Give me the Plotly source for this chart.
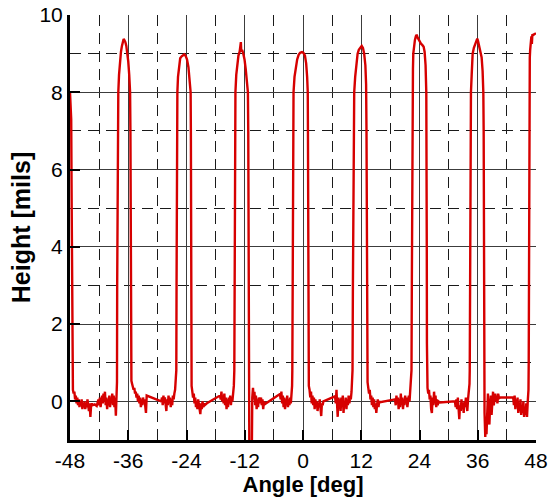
import plotly.graph_objects as go

# ---------------- data (angle in deg, height in mils) ----------------
start_deg = [-48.0, -47.9, -47.75, -47.65, -47.55, -47.45]
start_mils = [8.0, 7.8, 7.3, 5.0, 2.0, 0.6]

base_a_deg = [-47.40, -47.25, -47.10, -46.95, -46.80, -46.65, -46.50, -46.35, -46.20, -46.05,
              -45.90, -45.75, -45.60, -45.45, -45.30, -45.15, -45.00, -44.85, -44.70, -44.55,
              -44.40, -44.25, -44.10, -43.95, -43.80, -43.65, -43.50, -43.35, -42.90, -42.50,
              -42.30, -42.15, -42.00, -41.85, -41.70, -41.55, -41.40, -41.25, -41.10, -40.95,
              -40.80, -40.65, -40.50, -40.35, -40.20, -40.05, -39.90, -39.75, -39.60, -39.45,
              -39.30, -39.15, -39.00, -38.85, -38.70, -38.55, -38.45]
base_a_mils = [0.30, 0.20, 0.25, 0.05, 0.15, -0.05, 0.10, -0.10, 0.05, -0.15,
               0.00, -0.10, 0.05, -0.20, -0.05, -0.15, 0.00, -0.20, -0.05, -0.15,
               0.05, -0.10, -0.25, -0.05, -0.40, -0.10, -0.05, -0.10, -0.08, -0.12,
               -0.05, 0.05, -0.10, 0.10, -0.15, 0.00, 0.15, -0.05, 0.20, 0.00,
               0.25, -0.10, 0.10, -0.20, 0.05, -0.10, 0.15, -0.15, 0.10, -0.05,
               0.20, -0.10, 0.15, -0.15, 0.10, -0.37, 0.10]

pulse1_deg = [-38.32, -38.28, -38.22, -38.15, -38.05, -37.90, -37.70, -37.50, -37.30, -37.10,
              -36.95, -36.80, -36.60, -36.40, -36.20, -36.00, -35.80, -35.62, -35.55, -35.50,
              -35.47, -35.43]
pulse1_mils = [0.5, 3.0, 6.0, 7.5, 8.0, 8.45, 8.8, 9.05, 9.2, 9.32,
               9.38, 9.35, 9.3, 9.2, 9.05, 8.8, 8.45, 8.0, 7.0, 4.5,
               2.0, 0.6]

base_b_deg = [-35.35, -35.20, -35.05, -34.90, -34.75, -34.60, -34.45, -34.30, -34.15, -34.00,
              -33.85, -33.70, -33.55, -33.40, -33.25, -33.10, -32.95, -32.80, -32.65, -32.50,
              -32.35, -32.20, -29.20, -29.05, -28.90, -28.75, -28.60, -28.45, -28.30, -28.15,
              -28.00, -27.85, -27.70, -27.55, -27.40, -27.25, -27.10, -26.95, -26.80, -26.65,
              -26.50, -26.35, -26.20]
base_b_mils = [0.53, 0.45, 0.40, 0.30, 0.35, 0.20, 0.25, 0.10, 0.20, 0.00,
               0.15, -0.05, 0.10, -0.15, 0.05, -0.10, 0.10, -0.05, 0.05, -0.10,
               -0.30, 0.15, 0.00, 0.10, -0.10, 0.15, -0.05, 0.10, -0.15, -0.25,
               0.05, -0.10, 0.15, -0.05, 0.10, -0.15, 0.05, -0.10, 0.15, 0.05,
               0.20, 0.30, 0.60]

pulse2_deg = [-26.10, -26.05, -26.00, -25.95, -25.88, -25.75, -25.55, -25.30, -25.00, -24.70,
              -24.45, -24.20, -23.90, -23.60, -23.35, -23.15, -23.10, -23.07, -23.04, -23.00]
pulse2_mils = [0.8, 3.0, 6.0, 7.5, 8.0, 8.4, 8.7, 8.88, 8.93, 8.96,
               8.98, 8.95, 8.85, 8.65, 8.35, 8.0, 7.0, 4.0, 1.5, 0.4]

base_c_deg = [-22.95, -22.80, -22.65, -22.50, -22.35, -22.20, -22.05, -21.90, -21.75, -21.60,
              -21.45, -21.30, -21.15, -21.00, -20.85, -20.70, -20.55, -20.40, -20.25, -19.80,
              -17.10, -16.95, -16.80, -16.65, -16.50, -16.35, -16.20, -16.05, -15.90, -15.75,
              -15.60, -15.45, -15.30, -15.15, -15.00, -14.85, -14.70, -14.55, -14.40, -14.25]
base_c_mils = [0.40, 0.25, 0.10, 0.20, -0.05, 0.10, -0.15, 0.00, -0.20, 0.05,
               -0.10, -0.25, -0.33, -0.05, -0.20, 0.00, -0.15, -0.05, -0.10, -0.05,
               0.15, 0.05, 0.25, 0.00, 0.15, -0.05, 0.20, -0.10, 0.10, -0.20,
               0.05, -0.15, 0.10, -0.05, 0.15, -0.10, 0.10, 0.00, 0.20, 0.40]

pulse3_deg = [-14.15, -14.10, -14.05, -14.00, -13.92, -13.75, -13.55, -13.30, -13.05, -12.90,
              -12.80, -12.72, -12.55, -12.30, -12.05, -11.80, -11.55, -11.35, -11.28, -11.22,
              -11.17]
pulse3_mils = [0.8, 3.0, 6.0, 7.5, 8.0, 8.45, 8.75, 8.95, 9.05, 9.15,
               9.30, 9.05, 9.10, 9.0, 8.85, 8.6, 8.25, 8.0, 7.0, 4.0,
               1.0]

base_d_deg = [-11.05, -10.80, -10.55, -10.45, -10.30, -10.15, -10.00, -9.85, -9.70, -9.55,
              -9.40, -9.25, -9.10, -8.95, -8.80, -8.65, -8.50, -8.35, -8.20, -8.05,
              -7.85, -4.75, -4.60, -4.45, -4.30, -4.15, -4.00, -3.85, -3.70, -3.55,
              -3.40, -3.25, -3.10, -2.95, -2.80, -2.65, -2.50, -2.35, -2.25]
base_d_mils = [-1.5, -2.5, -1.5, 0.10, 0.35, 0.05, 0.25, -0.10, 0.15, -0.20,
               0.05, -0.15, 0.10, -0.05, 0.00, 0.10, -0.10, 0.05, -0.20, 0.00,
               -0.07, 0.19, 0.05, 0.25, -0.05, 0.15, -0.15, 0.10, -0.20, 0.05,
               -0.10, 0.15, -0.15, 0.05, -0.10, 0.10, -0.05, 0.20, 0.40]

pulse4_deg = [-2.20, -2.15, -2.10, -2.05, -1.95, -1.75, -1.50, -1.20, -0.90, -0.60,
              -0.20, 0.10, 0.40, 0.65, 0.85, 0.98, 1.02, 1.05, 1.08, 1.12]
pulse4_mils = [0.8, 3.0, 6.0, 7.5, 8.0, 8.4, 8.65, 8.85, 8.97, 9.02,
               9.04, 9.02, 8.95, 8.75, 8.4, 8.0, 7.0, 4.0, 1.5, 0.45]

base_e_deg = [1.20, 1.35, 1.50, 1.65, 1.80, 1.95, 2.10, 2.25, 2.40, 2.55,
              2.70, 2.85, 3.00, 3.15, 3.30, 3.45, 3.60, 3.75, 3.90, 4.05,
              4.20, 6.60, 6.75, 6.90, 7.05, 7.15, 7.30, 7.45, 7.60, 7.75,
              7.90, 8.05, 8.20, 8.35, 8.50, 8.65, 8.80, 8.95, 9.10, 9.25,
              9.40, 9.55, 9.70, 9.85, 10.00, 10.10]
base_e_mils = [0.40, 0.30, 0.10, 0.25, -0.05, 0.15, -0.10, 0.10, -0.20, 0.05,
               -0.15, 0.00, -0.25, -0.05, -0.15, 0.05, -0.30, -0.38, -0.05, -0.10,
               0.00, 0.13, -0.05, 0.30, -0.15, -0.40, 0.10, -0.20, 0.05, -0.25,
               0.10, -0.10, 0.15, -0.30, 0.00, -0.15, 0.10, -0.20, 0.05, -0.10,
               0.15, -0.05, 0.10, 0.05, 0.25, 0.45]

pulse5_deg = [10.20, 10.28, 10.35, 10.42, 10.55, 10.75, 11.00, 11.25, 11.50, 11.80,
              12.10, 12.35, 12.60, 12.85, 13.00, 13.08, 13.12, 13.15, 13.20]
pulse5_mils = [0.8, 3.0, 6.0, 7.5, 8.0, 8.4, 8.75, 9.0, 9.1, 9.15,
               9.2, 9.15, 9.0, 8.7, 8.2, 7.0, 4.0, 1.5, 0.5]

base_f_deg = [13.30, 13.45, 13.60, 13.75, 13.90, 14.05, 14.20, 14.35, 14.50, 14.65,
              14.80, 14.95, 15.10, 15.25, 15.40, 15.55, 15.70, 15.90, 18.95, 19.10,
              19.25, 19.40, 19.55, 19.70, 19.85, 20.00, 20.15, 20.30, 20.45, 20.60,
              20.75, 20.90, 21.05, 21.20, 21.35, 21.50, 21.65, 21.80, 21.95, 22.10,
              22.25]
base_f_mils = [0.50, 0.35, 0.20, 0.30, 0.05, 0.15, -0.10, 0.10, -0.15, 0.05,
               -0.20, -0.05, -0.30, -0.10, 0.05, -0.15, 0.00, -0.02, 0.05, -0.10,
               0.15, -0.05, 0.10, -0.20, 0.05, -0.15, 0.20, -0.10, 0.10, -0.20,
               0.05, -0.10, 0.15, -0.05, 0.10, -0.15, 0.05, 0.15, 0.00, 0.25,
               0.45]

pulse6_deg = [22.35, 22.42, 22.48, 22.52, 22.58, 22.65, 22.72, 22.85, 23.05, 23.25,
              23.42, 23.60, 23.85, 24.10, 24.35, 24.60, 24.85, 25.05, 25.25, 25.40,
              25.45, 25.50, 25.53, 25.57]
pulse6_mils = [0.8, 3.0, 6.0, 7.5, 8.0, 8.6, 9.0, 9.2, 9.35, 9.45,
               9.49, 9.42, 9.35, 9.3, 9.25, 9.22, 9.18, 9.05, 8.7, 8.0,
               7.0, 4.0, 1.5, 0.4]

base_g_deg = [25.65, 25.80, 25.95, 26.10, 26.25, 26.40, 26.55, 26.70, 26.85, 27.00,
              27.15, 27.30, 27.45, 27.60, 27.75, 27.90, 28.20, 31.30, 31.45, 31.60,
              31.75, 31.90, 32.05, 32.20, 32.35, 32.50, 32.65, 32.80, 32.95, 33.10,
              33.25, 33.40, 33.55, 33.70, 33.85, 34.00, 34.15, 34.30]
base_g_mils = [0.35, 0.20, 0.30, 0.05, 0.15, -0.20, -0.30, 0.10, -0.10, 0.25,
               -0.05, 0.15, -0.15, 0.05, -0.10, 0.00, -0.03, 0.00, -0.15, 0.05,
               -0.20, 0.10, -0.30, -0.46, -0.10, -0.25, 0.05, -0.20, -0.05, -0.30,
               0.00, -0.15, 0.10, -0.10, -0.25, 0.05, 0.20, 0.45]

pulse7_deg = [34.35, 34.40, 34.45, 34.50, 34.60, 34.75, 34.95, 35.20, 35.45, 35.70,
              35.90, 36.05, 36.30, 36.55, 36.80, 37.00, 37.15, 37.22, 37.27, 37.30,
              37.33]
pulse7_mils = [0.8, 3.0, 6.0, 7.5, 8.0, 8.45, 9.0, 9.15, 9.25, 9.33,
               9.39, 9.33, 9.2, 9.05, 8.9, 8.55, 8.0, 7.0, 4.0, 1.5,
               0.3]

base_h_deg = [37.40, 37.55, 37.70, 37.80, 37.95, 38.10, 38.25, 38.40, 38.55, 38.70,
              38.85, 39.00, 39.15, 39.30, 39.45, 39.60, 39.75, 39.90, 40.05, 40.20,
              40.40, 40.70, 43.30, 43.45, 43.60, 43.75, 43.90, 44.05, 44.20, 44.35,
              44.50, 44.65, 44.80, 44.95, 45.10, 45.25, 45.40, 45.55, 45.70, 45.85,
              46.00, 46.15, 46.30, 46.45]
base_h_mils = [-0.3, -0.92, -0.40, -0.85, -0.20, 0.20, -0.30, -0.60, -0.10, 0.15,
               -0.35, -0.15, 0.25, -0.10, 0.10, 0.20, 0.00, 0.15, -0.05, 0.20,
               0.08, 0.10, 0.10, -0.10, 0.15, -0.20, 0.05, -0.15, 0.10, -0.30,
               -0.05, -0.25, 0.05, -0.35, -0.10, -0.30, 0.00, -0.40, -0.15, -0.35,
               -0.05, -0.40, 0.00, 0.30]

pulse8_deg = [46.50, 46.55, 46.60, 46.65, 46.72, 46.80, 46.88, 46.95, 47.05, 47.15,
              47.25, 47.40, 47.60, 47.80, 48.00]
pulse8_mils = [1.0, 4.0, 7.0, 8.3, 8.9, 9.1, 9.3, 9.15, 9.45, 9.25,
               9.5, 9.48, 9.5, 9.52, 9.53]

x_tick_vals = [-48, -36, -24, -12, 0, 12, 24, 36, 48]
x_tick_text = ["-48", "-36", "-24", "-12", "0", "12", "24", "36", "48"]
y_tick_vals = [0, 2, 4, 6, 8, 10]
y_tick_text = ["0", "2", "4", "6", "8", "10"]

x_title = "Angle [deg]"
y_title = "Height [mils]"

# ---------------- assemble ----------------
deg_parts = [start_deg, base_a_deg, pulse1_deg, base_b_deg, pulse2_deg, base_c_deg,
             pulse3_deg, base_d_deg, pulse4_deg, base_e_deg, pulse5_deg, base_f_deg,
             pulse6_deg, base_g_deg, pulse7_deg, base_h_deg, pulse8_deg]
mils_parts = [start_mils, base_a_mils, pulse1_mils, base_b_mils, pulse2_mils, base_c_mils,
              pulse3_mils, base_d_mils, pulse4_mils, base_e_mils, pulse5_mils, base_f_mils,
              pulse6_mils, base_g_mils, pulse7_mils, base_h_mils, pulse8_mils]
angle = [v for part in deg_parts for v in part]
height = [v for part in mils_parts for v in part]

FONT = "Liberation Sans, Arial, sans-serif"

fig = go.Figure()
fig.add_trace(go.Scatter(
    x=angle, y=height, mode="lines",
    line=dict(color="#d60000", width=2.4),
    showlegend=False, hoverinfo="skip",
))

grid_major = dict(showgrid=True, gridcolor="#3c3c3c", gridwidth=1)
minor_grid = dict(showgrid=True, gridcolor="#1a1a1a", gridwidth=1, griddash="11px,7px",
                  ticks="")

fig.update_xaxes(
    range=[-48, 48], tickvals=x_tick_vals, ticktext=x_tick_text,
    ticks="inside", ticklen=10, tickwidth=2, tickcolor="black",
    showline=True, linecolor="black", linewidth=3,
    zeroline=False, automargin=True, **grid_major,
    minor=dict(dtick=6, tick0=-48, **minor_grid),
    tickfont=dict(family=FONT, size=21, color="black"),
    title=dict(text=x_title, font=dict(family=FONT, size=22, color="black", weight="bold"),
               standoff=5),
)
fig.update_yaxes(
    range=[-1, 10], tickvals=y_tick_vals, ticktext=y_tick_text,
    ticks="inside", ticklen=10, tickwidth=2, tickcolor="black",
    showline=True, linecolor="black", linewidth=3,
    zeroline=False, automargin=True, **grid_major,
    minor=dict(dtick=1, tick0=-1, **minor_grid),
    tickfont=dict(family=FONT, size=21, color="black"),
    title=dict(text=y_title, font=dict(family=FONT, size=25, color="black", weight="bold"),
               standoff=2),
)

fig.update_layout(
    width=550, height=500,
    margin=dict(l=70, r=14, t=15, b=60, autoexpand=False),
    paper_bgcolor="white", plot_bgcolor="white",
)

fig.write_html("out.html")
